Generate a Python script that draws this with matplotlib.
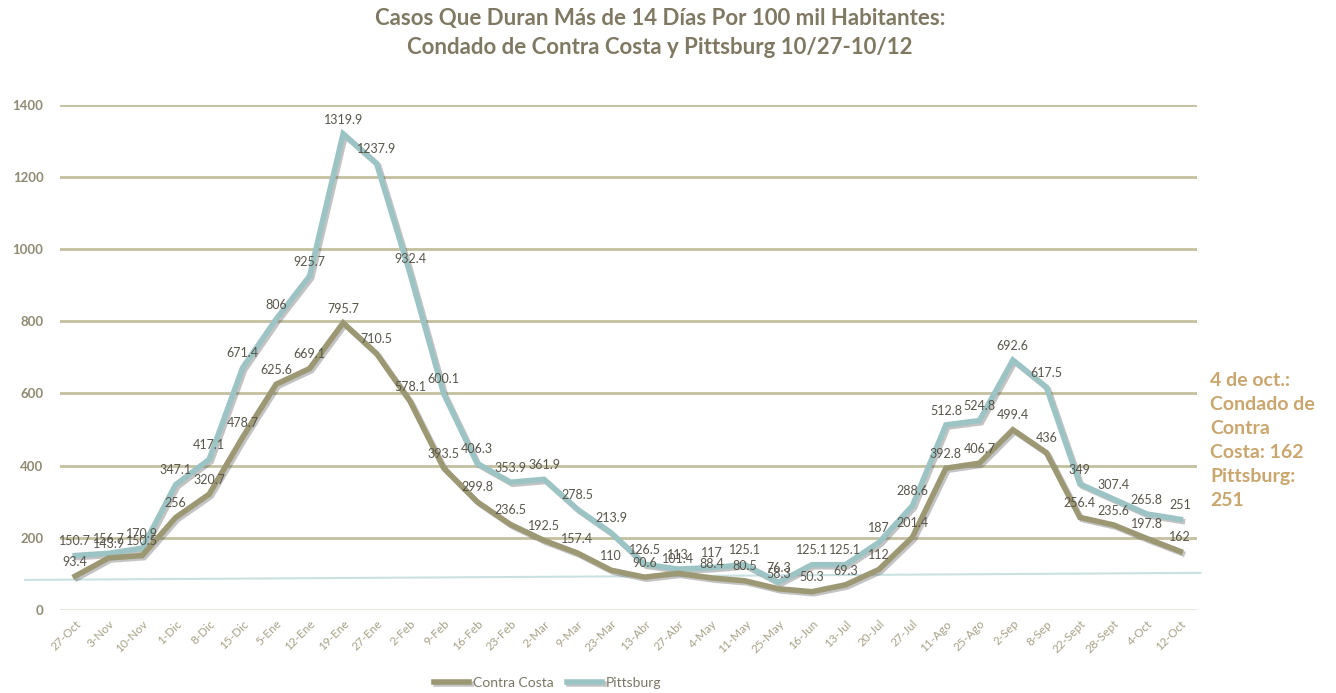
import matplotlib
matplotlib.use("Agg")
import matplotlib.pyplot as plt
import matplotlib.patheffects as pe
import numpy as np

# fechas (semanas)
fechas = ['27-Oct', '3-Nov', '10-Nov', '1-Dic', '8-Dic', '15-Dic', '5-Ene', '12-Ene',
          '19-Ene', '27-Ene', '2-Feb', '9-Feb', '16-Feb', '23-Feb', '2-Mar', '9-Mar',
          '23-Mar', '13-Abr', '27-Abr', '4-May', '11-May', '25-May', '16-Jun', '13-Jul',
          '20-Jul', '27-Jul', '11-Ago', '25-Ago', '2-Sep', '8-Sep', '22-Sept', '28-Sept',
          '4-Oct', '12-Oct']

contra_costa = [93.4, 143.9, 150.5, 256, 320.7, 478.7, 625.6, 669.1,
                795.7, 710.5, 578.1, 393.5, 299.8, 236.5, 192.5, 157.4,
                110, 90.6, 101.4, 88.4, 80.5, 58.3, 50.3, 69.3,
                112, 201.4, 392.8, 406.7, 499.4, 436, 256.4, 235.6,
                197.8, 162]

pittsburg = [150.7, 156.7, 170.9, 347.1, 417.1, 671.4, 806, 925.7,
             1319.9, 1237.9, 932.4, 600.1, 406.3, 353.9, 361.9, 278.5,
             213.9, 126.5, 113, 117, 125.1, 76.3, 125.1, 125.1,
             187, 288.6, 512.8, 524.8, 692.6, 617.5, 349, 307.4,
             265.8, 251]

# thin reference line across the chart (start / end values)
linea_ref = [83, 102.5]

nota = "4 de oct.:\nCondado de\nContra\nCosta: 162\nPittsburg:\n251"

olive = '#9d9874'
teal = '#9dc4c4'
grid_c = '#c3c0a0'
txt_c = '#58554a'
tick_c = '#a6a186'

plt.rcParams['font.family'] = ['Lato', 'DejaVu Sans']

fig = plt.figure(figsize=(13.36, 6.93), dpi=100)
ax = fig.add_axes([0.045, 0.12, 0.851, 0.7285])

x = np.arange(len(fechas))

# gridlines
for v in range(200, 1401, 200):
    ax.axhline(v, color=grid_c, lw=2, zorder=1)
ax.axhline(0, color='#e6e4d8', lw=2, zorder=1)

ax.plot([-1.5, 33.6], linea_ref, color='#c9e1e1', lw=1.5, clip_on=False, zorder=2)

shadow = [pe.SimpleLineShadow(offset=(1.5, -1.5), shadow_color='#555555', alpha=0.35), pe.Normal()]
ax.plot(x, contra_costa, color=olive, lw=4, label='Contra Costa', zorder=4,
        path_effects=shadow, solid_joinstyle='miter')
ax.plot(x, pittsburg, color=teal, lw=4, label='Pittsburg', zorder=3,
        path_effects=shadow, solid_joinstyle='miter')

for serie in (contra_costa, pittsburg):
    for xi, v in zip(x, serie):
        ax.annotate(f'{v:g}', (xi, v), xytext=(0, 6), textcoords='offset points',
                    ha='center', va='bottom', fontsize=9, color=txt_c, zorder=5)

ax.set_xlim(-0.45, 33.5)
ax.set_ylim(0, 1400)
ax.set_yticks(range(0, 1401, 200))
ax.set_xticks(x)
ax.set_xticklabels(fechas, rotation=45, ha='right', rotation_mode='anchor')
ax.tick_params(axis='x', length=0, pad=6, labelsize=8.5, labelcolor=tick_c)
ax.tick_params(axis='y', length=0, pad=12, labelsize=9.5, labelcolor='#8f8a72')
for lab in ax.get_yticklabels():
    lab.set_fontweight('bold')
for s in ax.spines.values():
    s.set_visible(False)

fig.text(0.494, 0.988, "Casos Que Duran Más de 14 Días Por 100 mil Habitantes:\n"
         "Condado de Contra Costa y Pittsburg 10/27-10/12",
         ha='center', va='top', fontsize=16, fontweight='bold', color='#7f7862',
         linespacing=1.45)

fig.text(0.906, 0.463, nota, ha='left', va='top', fontsize=14, fontweight='bold',
         color='#c8a66e', linespacing=1.5)

fig.legend(loc='lower center', bbox_to_anchor=(0.41, -0.012), ncol=2, frameon=False,
           fontsize=10, labelcolor='#7a7765', handlelength=2.5, columnspacing=1.0,
           handletextpad=0.3)

fig.savefig('out.png', dpi=100)
